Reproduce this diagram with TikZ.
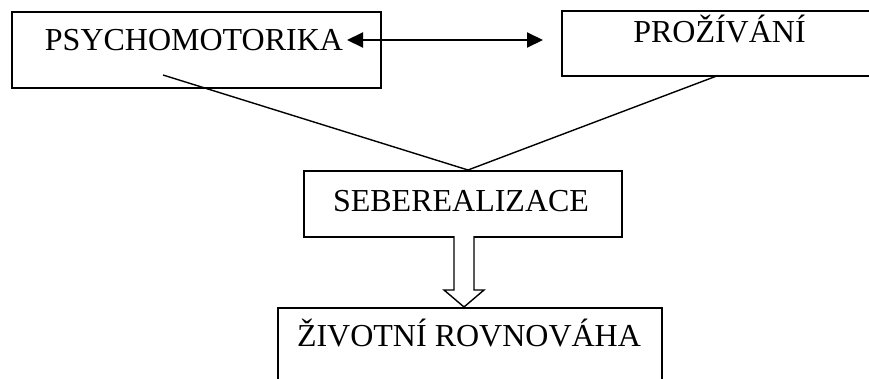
\documentclass[tikz,border=0pt]{standalone}
\usepackage{fontspec}
\setmainfont{Liberation Serif}
\usetikzlibrary{arrows.meta}
\begin{document}
\begin{tikzpicture}[x=1pt,y=-1pt,
  box/.style={draw=black,line width=1.6pt,rectangle,inner sep=0pt,anchor=north west},
  lbl/.style={anchor=base,inner sep=0pt,font=\fontsize{32}{38}\selectfont},
  link/.style={line width=1.4pt},
  dbl/.style={line width=2pt,{Triangle[length=16pt,width=15pt]}-{Triangle[length=16pt,width=15pt]}},
  hollow/.style={draw=black,line width=1.4pt,fill=white,line join=miter}]
\useasboundingbox (0,0) rectangle (869,378);
\clip (0,0) rectangle (869,378);
% boxes
\node[box,minimum width=369pt,minimum height=76pt] (psy) at (11,11) {};
\node[box,minimum width=317pt,minimum height=65pt] (pro) at (561,10) {};
\node[box,minimum width=318pt,minimum height=66pt] (seb) at (303,170) {};
\node[box,minimum width=384pt,minimum height=90pt] (ziv) at (277,307) {};
% labels
\node[lbl] (tpsy) at (194,50) {PSYCHOMOTORIKA};
\node[lbl] (tpro) at (719.5,42) {PROŽÍVÁNÍ};
\node[lbl] (tseb) at (461,211) {SEBEREALIZACE};
\node[lbl] (tziv) at (469,346) {ŽIVOTNÍ ROVNOVÁHA};
% double arrow
\coordinate (a1) at (347,40);
\coordinate (a2) at (543,40);
\draw[dbl] (a1) -- (a2);
% converging lines
\coordinate (p1) at (163,75);
\coordinate (p2) at (718,75.5);
\coordinate (m) at (468,170);
\draw[link] (p1) -- (m) -- (p2);
% hollow arrow
\draw[hollow] (454,236) -- (454,290) -- (444,290) -- (464,307) -- (484,290) -- (474,290) -- (474,236);
\end{tikzpicture}
\end{document}
